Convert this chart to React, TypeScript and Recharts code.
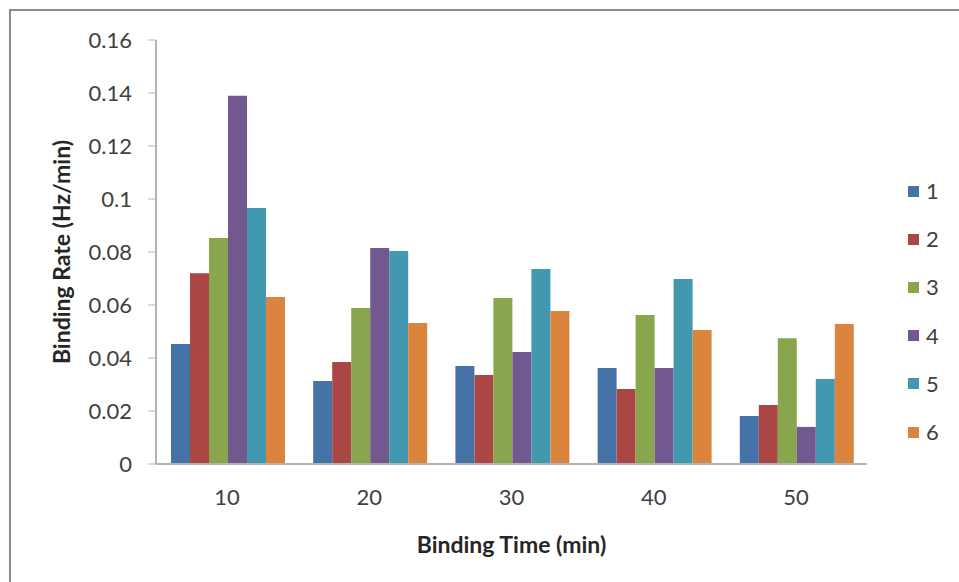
import React from 'react';
import { BarChart, Bar, XAxis, YAxis } from 'recharts';

const bindingTimes = ['10', '20', '30', '40', '50'];
const seriesNames = ['1', '2', '3', '4', '5', '6'];
const seriesColors = ['#4572A7', '#AA4643', '#89A54E', '#71588F', '#4198AF', '#DB843D'];

const s1 = [0.0453, 0.0313, 0.037, 0.0362, 0.0181];
const s2 = [0.072, 0.0385, 0.0336, 0.0283, 0.0223];
const s3 = [0.0853, 0.0589, 0.0626, 0.0562, 0.0475];
const s4 = [0.139, 0.0815, 0.0423, 0.0362, 0.014];
const s5 = [0.0966, 0.0804, 0.0736, 0.0698, 0.0321];
const s6 = [0.063, 0.0532, 0.0577, 0.0506, 0.0528];

const yTicks = [0, 0.02, 0.04, 0.06, 0.08, 0.1, 0.12, 0.14, 0.16];

const allSeries = [s1, s2, s3, s4, s5, s6];

const data = bindingTimes.map((t, i) => {
  const row: Record<string, string | number> = { time: t };
  seriesNames.forEach((n, j) => {
    row[n] = allSeries[j][i];
  });
  return row;
});

const font = 'Lato, "Open Sans", sans-serif';

const App: React.FC = () => {
  return (
    <div style={{ position: 'fixed', left: 0, top: 0, width: 959, height: 582, background: '#fff', fontFamily: font }}>
      <div
        style={{
          position: 'absolute',
          left: 9,
          top: 9,
          width: 960,
          height: 600,
          borderTop: '2px solid #8a8a8a',
          borderLeft: '2px solid #8a8a8a',
        }}
      />
      <div style={{ position: 'absolute', left: 0, top: 0 }}>
        <BarChart
          width={959}
          height={582}
          data={data}
          margin={{ top: 40, right: 92, bottom: 26, left: 0 }}
          barCategoryGap={15}
          barGap={0}
        >
          <XAxis
            dataKey="time"
            axisLine={{ stroke: '#b3b3b3', strokeWidth: 2 }}
            tickLine={false}
            tickMargin={19}
            height={92}
            tick={{ fill: '#404040', fontSize: 22, fontFamily: font }}
            label={{
              value: 'Binding Time (min)',
              position: 'insideBottom',
              offset: 3,
              style: { fill: '#262626', fontSize: 23, fontWeight: 'bold', fontFamily: font },
            }}
          />
          <YAxis
            width={156}
            domain={[0, 0.16]}
            ticks={yTicks}
            interval={0}
            axisLine={{ stroke: '#b3b3b3', strokeWidth: 2 }}
            tickLine={{ stroke: '#b3b3b3' }}
            tickSize={8}
            tickMargin={16}
            tick={{ fill: '#404040', fontSize: 22, fontFamily: font }}
            label={{
              value: 'Binding Rate (Hz/min)',
              angle: -90,
              position: 'insideLeft',
              offset: 62,
              style: { textAnchor: 'middle', fill: '#262626', fontSize: 23, fontWeight: 'bold', fontFamily: font },
            }}
          />
          {seriesNames.map((n, j) => (
            <Bar key={n} dataKey={n} fill={seriesColors[j]} isAnimationActive={false} />
          ))}
        </BarChart>
      </div>
      <div style={{ position: 'absolute', left: 908, top: 167 }}>
        {seriesNames.map((n, j) => (
          <div key={n} style={{ display: 'flex', alignItems: 'center', height: 48.2 }}>
            <span style={{ display: 'inline-block', width: 11, height: 11, background: seriesColors[j], marginRight: 7 }} />
            <span style={{ fontSize: 22, color: '#404040', lineHeight: '24px' }}>{n}</span>
          </div>
        ))}
      </div>
    </div>
  );
};

export default App;
